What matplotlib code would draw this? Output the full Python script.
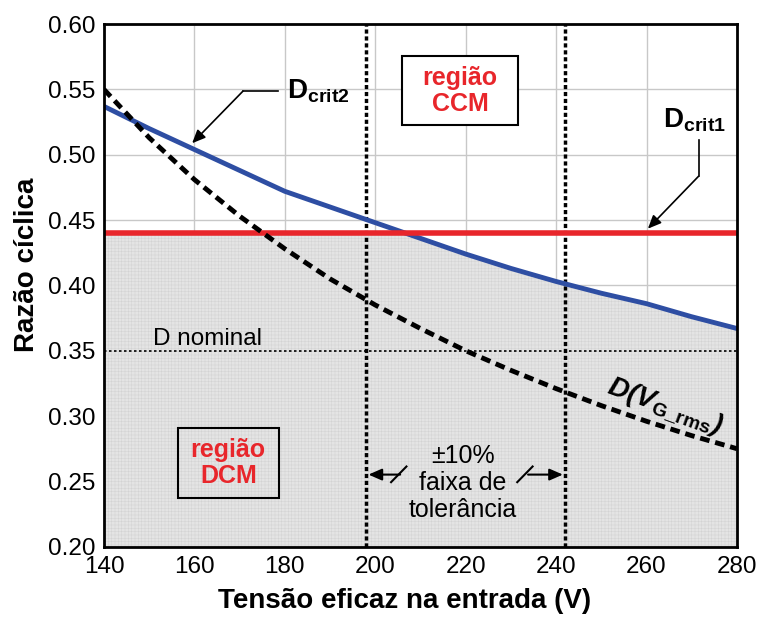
import numpy as np
import matplotlib
matplotlib.use('Agg')
import matplotlib.pyplot as plt
from matplotlib.patches import Rectangle

plt.rcParams['font.family'] = ['Liberation Sans', 'DejaVu Sans']
plt.rcParams['mathtext.fontset'] = 'custom'
plt.rcParams['mathtext.rm'] = 'Liberation Sans'
plt.rcParams['mathtext.bf'] = 'Liberation Sans:bold'
plt.rcParams['mathtext.bfit'] = 'Liberation Sans:italic:bold'
plt.rcParams['hatch.linewidth'] = 0.3

# data
v_rms = [140, 150, 160, 170, 180, 190, 200, 210, 220, 230, 240, 250, 260, 270, 280]
d_crit2 = [0.537, 0.520, 0.504, 0.488, 0.472, 0.460, 0.448, 0.436, 0.424,
           0.413, 0.403, 0.394, 0.386, 0.376, 0.367]
d_vg = [0.550, 0.513, 0.481, 0.453, 0.428, 0.405, 0.385, 0.367, 0.350,
        0.335, 0.321, 0.308, 0.296, 0.285, 0.275]
d_crit1 = 0.44
d_nominal = 0.35
v_tol = [198, 242]

x_ticks = [140, 160, 180, 200, 220, 240, 260, 280]
y_ticks = [0.20, 0.25, 0.30, 0.35, 0.40, 0.45, 0.50, 0.55, 0.60]

fig = plt.figure(figsize=(7.6, 6.17), dpi=100)
ax = fig.add_axes([0.1368, 0.1139, 0.8329, 0.8471])

# shaded DCM region (below the lower of the two critical curves)
xf = np.linspace(v_rms[0], v_rms[-1], 400)
yf = np.minimum(d_crit1, np.interp(xf, v_rms, d_crit2))
ax.fill_between(xf, 0.2, yf, facecolor='#e4e4e4', edgecolor='#d0d0d0',
                hatch='+++++', linewidth=0, zorder=1)

ax.grid(True, color='#c8c8c8', lw=1, zorder=0)
ax.set_axisbelow(True)

ax.axhline(d_nominal, color='k', ls=(0, (1.5, 1.5)), lw=1.2, zorder=3)
for v in v_tol:
    ax.axvline(v, color='k', ls=(0, (1.2, 0.8)), lw=2.5, zorder=3)

ax.plot(v_rms, d_crit2, color='#2e4ea3', lw=3.5, zorder=4)
ax.axhline(d_crit1, color='#e8262b', lw=4, zorder=4)
ax.plot(v_rms, d_vg, color='k', lw=3.5, ls=(0, (2, 1.2)), zorder=5)

ax.set_xlim(140, 280)
ax.set_ylim(0.20, 0.60)
ax.set_xticks(x_ticks)
ax.set_yticks(y_ticks)
ax.set_yticklabels(['%.2f' % t for t in y_ticks])
ax.tick_params(length=0, labelsize=17.5)
ax.tick_params(axis='x', pad=7)
ax.tick_params(axis='y', pad=6)
for s in ax.spines.values():
    s.set_linewidth(2)
    s.set_zorder(6)

ax.set_xlabel('Tensão eficaz na entrada (V)', fontsize=20, fontweight='bold')
ax.xaxis.set_label_coords(0.4755, -0.079)
ax.set_ylabel('Razão cíclica', fontsize=20, fontweight='bold')
ax.yaxis.set_label_coords(-0.101, 0.539)

# region boxes
ax.add_patch(Rectangle((205.9, 0.5226), 25.7, 0.0529, fc='white', ec='k', lw=1.5, zorder=7))
ax.text(218.8, 0.549, 'região\nCCM', color='#e8262b', fontsize=18, fontweight='bold',
        ha='center', va='center', linespacing=1.1, zorder=8)
ax.add_patch(Rectangle((156.4, 0.2375), 22.3, 0.0537, fc='none', ec='k', lw=1.5, zorder=7))
ax.text(167.5, 0.2644, 'região\nDCM', color='#e8262b', fontsize=18, fontweight='bold',
        ha='center', va='center', linespacing=1.1, zorder=8)

ax.text(150.8, 0.3586, 'D nominal', fontsize=17.5, ha='left', va='center', zorder=7)

arrow = dict(arrowstyle='-|>,head_length=0.8,head_width=0.35',
             color='k', lw=1.2, shrinkA=0, shrinkB=0)

# D_crit2 leader
ax.text(180.4, 0.5487, r'$\mathbf{D}_{\mathbf{crit2}}$', fontsize=20, ha='left', va='center', zorder=7)
ax.plot([170.75, 178.5], [0.5487, 0.5487], color='k', lw=1.2, zorder=7)
ax.annotate('', xy=(159.5, 0.5088), xytext=(170.75, 0.5487), arrowprops=arrow, zorder=7)

# D_crit1 leader
ax.text(263.7, 0.5264, r'$\mathbf{D}_{\mathbf{crit1}}$', fontsize=20, ha='left', va='center', zorder=7)
ax.plot([271.5, 271.5], [0.5111, 0.4835], color='k', lw=1.2, zorder=7)
ax.annotate('', xy=(260.3, 0.4434), xytext=(271.5, 0.4835), arrowprops=arrow, zorder=7)

# tolerance band arrows and text
ax.text(219.4, 0.249, '±10%\nfaixa de\ntolerância', fontsize=18, ha='center', va='center',
        linespacing=1.15, zorder=7)
arrow2 = dict(arrow, lw=1.5)
ax.annotate('', xy=(198.5, 0.2552), xytext=(205.5, 0.2552), arrowprops=arrow2, zorder=7)
ax.plot([203.5, 206.9], [0.2494, 0.2614], color='k', lw=1.5, zorder=7)
ax.annotate('', xy=(241.5, 0.2552), xytext=(233.8, 0.2552), arrowprops=arrow2, zorder=7)
ax.plot([231.4, 234.8], [0.2494, 0.2614], color='k', lw=1.5, zorder=7)

ax.text(264.0, 0.307, r'$\mathbfit{D(V}_{\mathbf{G\_rms}}\mathbfit{)}$', fontsize=20,
        ha='center', va='center', rotation=-20, zorder=7)

fig.savefig('out.png', dpi=100)
